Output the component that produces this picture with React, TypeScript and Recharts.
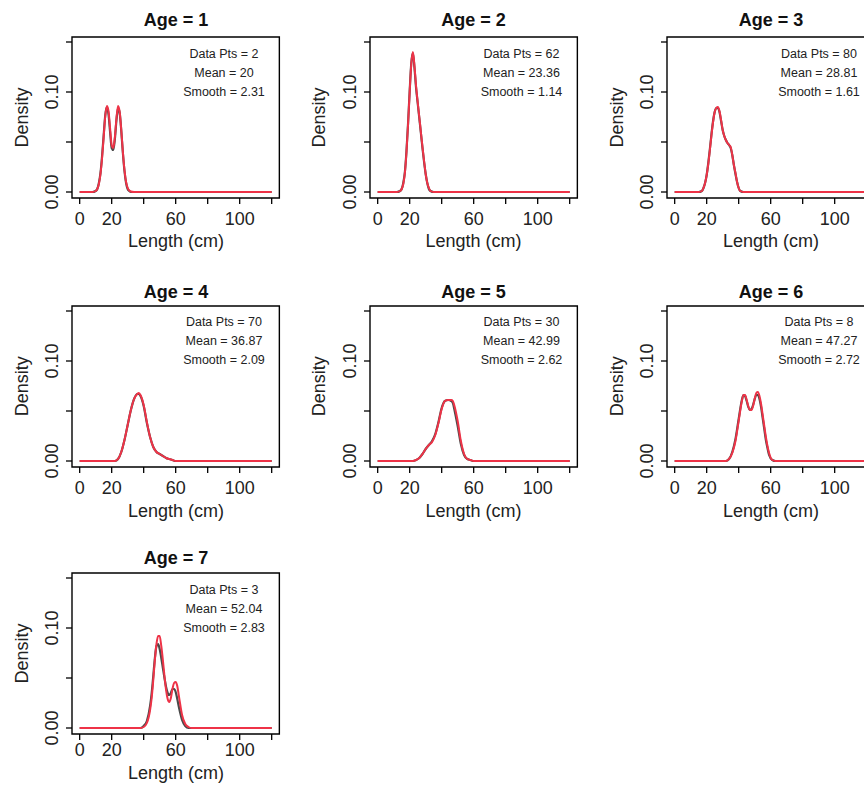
import React from "react";
import { LineChart, Line, XAxis, YAxis, ReferenceArea } from "recharts";

// panel annotations
const ages = [1, 2, 3, 4, 5, 6, 7];
const dataPts = [2, 62, 80, 70, 30, 8, 3];
const means = ["20", "23.36", "28.81", "36.87", "42.99", "47.27", "52.04"];
const smooths = ["2.31", "1.14", "1.61", "2.09", "2.62", "2.72", "2.83"];

// density curves: length (cm), gray curve, red curve
const len1 = [0, 8, 10, 11, 12, 13, 14, 15, 16, 17, 18, 19, 20, 21, 22, 23, 24, 25, 26, 27, 28, 29, 30, 31, 32, 34, 120];
const gray1 = [0, 0, 0.001, 0.003, 0.009, 0.019, 0.036, 0.057, 0.077, 0.085, 0.078, 0.06, 0.044, 0.042, 0.053, 0.072, 0.084, 0.079, 0.061, 0.039, 0.021, 0.009, 0.003, 0.001, 0, 0, 0];
const red1 = [0, 0, 0.001, 0.003, 0.008, 0.018, 0.034, 0.055, 0.076, 0.086, 0.081, 0.064, 0.047, 0.044, 0.055, 0.074, 0.086, 0.08, 0.062, 0.04, 0.022, 0.01, 0.004, 0.0015, 0.0005, 0, 0];

const len2 = [0, 12, 14, 15, 16, 17, 18, 19, 20, 21, 22, 23, 24, 25, 26, 27, 28, 29, 30, 31, 32, 33, 35, 120];
const gray2 = [0, 0, 0.001, 0.003, 0.009, 0.02, 0.041, 0.069, 0.101, 0.129, 0.139, 0.124, 0.104, 0.089, 0.074, 0.059, 0.044, 0.03, 0.018, 0.009, 0.003, 0.001, 0, 0];
const red2 = [0, 0, 0.001, 0.003, 0.008, 0.019, 0.04, 0.068, 0.1, 0.128, 0.14, 0.126, 0.106, 0.09, 0.075, 0.06, 0.045, 0.031, 0.018, 0.009, 0.004, 0.001, 0, 0];

const len3 = [0, 15, 17, 18, 19, 20, 21, 22, 23, 24, 25, 26, 27, 28, 29, 30, 31, 32, 33, 34, 35, 36, 37, 38, 39, 40, 41, 43, 120];
const gray3 = [0, 0, 0.001, 0.004, 0.009, 0.017, 0.029, 0.043, 0.058, 0.071, 0.08, 0.084, 0.084, 0.08, 0.071, 0.062, 0.056, 0.052, 0.049, 0.047, 0.044, 0.037, 0.027, 0.018, 0.01, 0.004, 0.001, 0, 0];
const red3 = [0, 0, 0.001, 0.004, 0.009, 0.017, 0.028, 0.042, 0.057, 0.07, 0.08, 0.084, 0.085, 0.081, 0.072, 0.062, 0.056, 0.052, 0.049, 0.047, 0.045, 0.037, 0.027, 0.019, 0.01, 0.004, 0.001, 0, 0];

const len4 = [0, 22, 24, 26, 28, 30, 32, 34, 36, 37, 38, 40, 42, 44, 46, 48, 50, 52, 54, 56, 58, 60, 120];
const gray4 = [0, 0, 0.002, 0.009, 0.021, 0.036, 0.051, 0.062, 0.067, 0.067, 0.065, 0.055, 0.038, 0.024, 0.014, 0.009, 0.007, 0.005, 0.003, 0.002, 0.001, 0, 0];
const red4 = [0, 0, 0.002, 0.009, 0.021, 0.036, 0.051, 0.062, 0.067, 0.068, 0.066, 0.056, 0.039, 0.024, 0.014, 0.009, 0.007, 0.005, 0.003, 0.002, 0.001, 0, 0];

const len5 = [0, 22, 24, 26, 28, 30, 32, 34, 36, 38, 40, 42, 44, 46, 47, 48, 50, 52, 54, 56, 58, 60, 120];
const gray5 = [0, 0, 0.001, 0.003, 0.007, 0.012, 0.016, 0.02, 0.027, 0.039, 0.053, 0.06, 0.061, 0.06, 0.058, 0.051, 0.035, 0.017, 0.006, 0.002, 0.001, 0, 0];
const red5 = [0, 0, 0.001, 0.003, 0.007, 0.012, 0.016, 0.019, 0.026, 0.038, 0.052, 0.06, 0.061, 0.061, 0.06, 0.055, 0.04, 0.02, 0.007, 0.002, 0.001, 0, 0];

const len6 = [0, 32, 34, 36, 38, 40, 42, 43, 44, 45, 46, 47, 48, 49, 50, 51, 52, 53, 54, 55, 56, 57, 58, 59, 61, 63, 120];
const gray6 = [0, 0, 0.002, 0.009, 0.022, 0.042, 0.061, 0.066, 0.065, 0.06, 0.054, 0.051, 0.052, 0.056, 0.062, 0.066, 0.066, 0.062, 0.054, 0.043, 0.032, 0.021, 0.013, 0.006, 0.001, 0, 0];
const red6 = [0, 0, 0.002, 0.008, 0.02, 0.04, 0.06, 0.066, 0.066, 0.061, 0.055, 0.051, 0.051, 0.055, 0.062, 0.068, 0.069, 0.065, 0.057, 0.046, 0.035, 0.024, 0.015, 0.008, 0.001, 0, 0];

const len7 = [0, 38, 40, 42, 44, 45, 46, 47, 48, 49, 50, 51, 52, 53, 54, 55, 56, 57, 58, 59, 60, 61, 62, 63, 64, 66, 68, 70, 120];
const gray7 = [0, 0, 0.002, 0.007, 0.022, 0.035, 0.052, 0.07, 0.082, 0.084, 0.079, 0.07, 0.06, 0.05, 0.041, 0.035, 0.033, 0.035, 0.039, 0.039, 0.036, 0.029, 0.021, 0.014, 0.008, 0.002, 0, 0, 0];
const red7 = [0, 0, 0.001, 0.005, 0.018, 0.03, 0.048, 0.068, 0.084, 0.092, 0.092, 0.082, 0.068, 0.052, 0.038, 0.029, 0.026, 0.03, 0.039, 0.045, 0.046, 0.042, 0.032, 0.022, 0.013, 0.004, 0.001, 0, 0];

const lengths = [len1, len2, len3, len4, len5, len6, len7];
const grays = [gray1, gray2, gray3, gray4, gray5, gray6, gray7];
const reds = [red1, red2, red3, red4, red5, red6, red7];

const xTicks = [0, 20, 40, 60, 80, 100, 120];
const xLabels = [0, 20, 60, 100];
const yTicks = [0, 0.05, 0.1, 0.15];
const yLabels = [0, 0.1];

// layout
const colLeft = [72.3, 369.8, 667.3];
const rowBase = [192, 460.7, 728];
const titleBase = [25.5, 297.5, 564];
const tickDrop = [27, 27, 22];
const xTitleBase = [247, 517, 779];

const X_MIN = -4.8;
const X_MAX = 124.8;
const Y_MIN = -0.006;
const Y_MAX = 0.155;
const BOX_W = (X_MAX - X_MIN) * 1.6;
const BOX_H = (Y_MAX - Y_MIN) * 1000;
const ML = 60;
const MT = 30;
const MR = 10;
const MB = 60;

const FONT = "'Liberation Sans', Arial, Helvetica, sans-serif";

function Panel({ i }: { i: number }) {
  const row = Math.floor(i / 3);
  const col = i % 3;
  const boxLeft = colLeft[col];
  const boxTop = rowBase[row] - Y_MAX * 1000;
  const data = lengths[i].map((x, j) => ({ x, gray: grays[i][j], red: reds[i][j] }));

  const xTick = (p: any) => {
    const v = p.payload.value;
    if (!xLabels.includes(v)) return <g />;
    return (
      <text x={p.x} y={MT + BOX_H + tickDrop[row]} textAnchor="middle" fontSize={18} fill="#222">
        {v}
      </text>
    );
  };
  const yTick = (p: any) => {
    const v = p.payload.value;
    if (!yLabels.some((l) => Math.abs(l - v) < 1e-9)) return <g />;
    return (
      <text
        transform={`translate(${ML - 20.6},${p.y}) rotate(-90)`}
        textAnchor="middle"
        dy="0.36em"
        fontSize={18}
        fill="#222"
      >
        {v.toFixed(2)}
      </text>
    );
  };

  return (
    <div style={{ position: "absolute", left: boxLeft - ML, top: boxTop - MT }}>
      <LineChart
        width={ML + BOX_W + MR}
        height={MT + BOX_H + MB}
        data={data}
        margin={{ top: MT, right: MR, bottom: 0, left: 0 }}
      >
        <XAxis
          type="number"
          dataKey="x"
          domain={[X_MIN, X_MAX]}
          ticks={xTicks}
          interval={0}
          allowDataOverflow
          axisLine={false}
          tickSize={6}
          tickLine={{ stroke: "#000", strokeWidth: 1.3 }}
          tick={xTick}
          height={MB}
        />
        <YAxis
          type="number"
          domain={[Y_MIN, Y_MAX]}
          ticks={yTicks}
          interval={0}
          allowDataOverflow
          axisLine={false}
          tickSize={6}
          tickLine={{ stroke: "#000", strokeWidth: 1.3 }}
          tick={yTick}
          width={ML}
        />
        <Line type="monotone" dataKey="gray" stroke="#4a4a4a" strokeWidth={2.2} dot={false} isAnimationActive={false} />
        <Line type="monotone" dataKey="red" stroke="#ee3347" strokeWidth={2} dot={false} isAnimationActive={false} />
        <ReferenceArea
          x1={X_MIN}
          x2={X_MAX}
          y1={Y_MIN}
          y2={Y_MAX}
          fill="none"
          fillOpacity={0}
          stroke="#000"
          strokeWidth={1.4}
          ifOverflow="visible"
        />
      </LineChart>
    </div>
  );
}

function Labels({ i }: { i: number }) {
  const row = Math.floor(i / 3);
  const col = i % 3;
  const boxLeft = colLeft[col];
  const base = rowBase[row];
  const cx = boxLeft + BOX_W / 2;
  const ax = boxLeft + (90 - X_MIN) * 1.6;
  const notes = [`Data Pts = ${dataPts[i]}`, `Mean = ${means[i]}`, `Smooth = ${smooths[i]}`];
  const noteY = [0.139, 0.12, 0.101];
  return (
    <g>
      <text x={cx} y={titleBase[row]} textAnchor="middle" fontSize={18} fontWeight="bold" fill="#111">
        {`Age = ${ages[i]}`}
      </text>
      <text x={cx} y={xTitleBase[row]} textAnchor="middle" fontSize={18} fill="#222">
        Length (cm)
      </text>
      <text
        transform={`translate(${boxLeft - 51},${base - 74.5}) rotate(-90)`}
        textAnchor="middle"
        dy="0.36em"
        fontSize={18}
        fill="#222"
      >
        Density
      </text>
      {notes.map((t, k) => (
        <text key={k} x={ax} y={base - noteY[k] * 1000 + 4.5} textAnchor="middle" fontSize={12.5} fill="#222">
          {t}
        </text>
      ))}
    </g>
  );
}

export default function App() {
  return (
    <div
      style={{
        position: "absolute",
        left: 0,
        top: 0,
        width: 864,
        height: 790,
        overflow: "hidden",
        background: "#fff",
        fontFamily: FONT,
      }}
    >
      {ages.map((a, i) => (
        <Panel key={a} i={i} />
      ))}
      <svg
        width={864}
        height={790}
        style={{ position: "absolute", left: 0, top: 0, pointerEvents: "none", fontFamily: FONT }}
      >
        {ages.map((a, i) => (
          <Labels key={a} i={i} />
        ))}
      </svg>
    </div>
  );
}
